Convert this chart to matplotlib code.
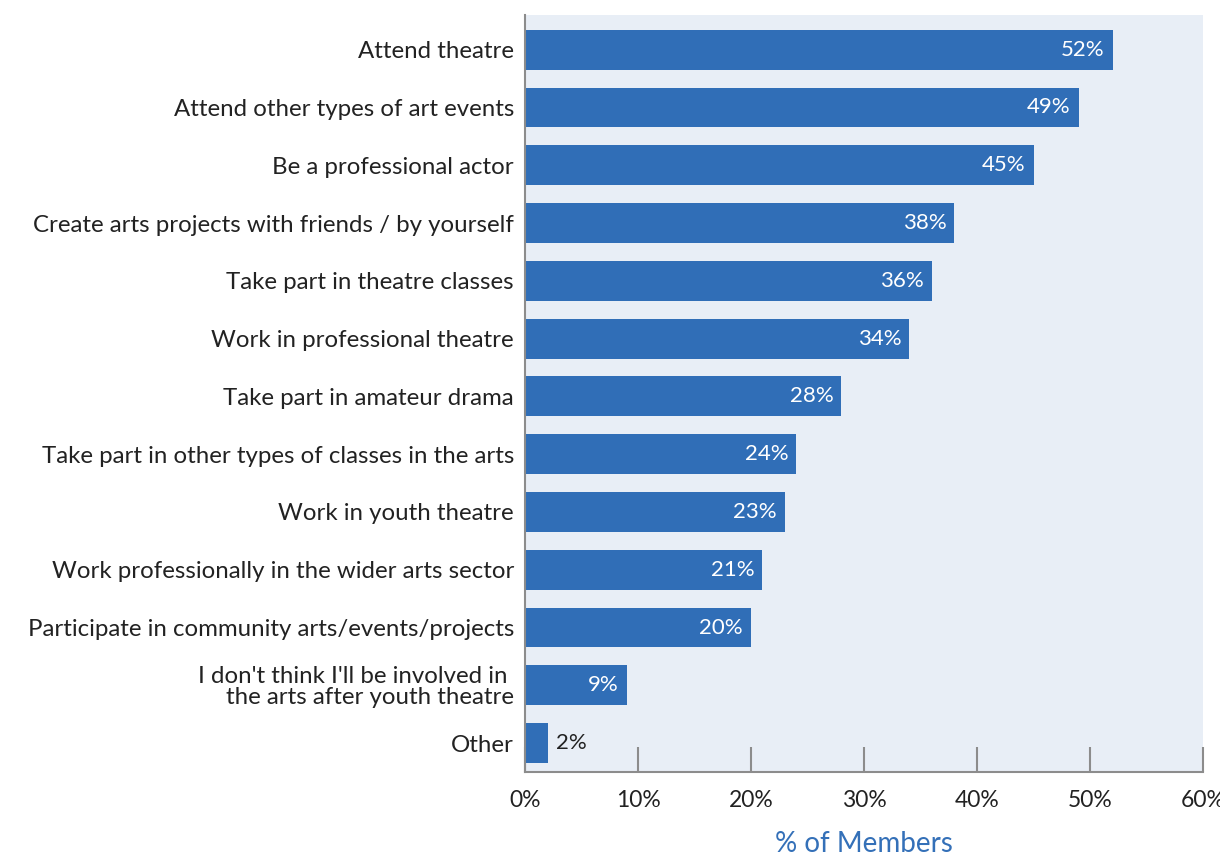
import matplotlib.pyplot as plt

categories = [
    "Attend theatre",
    "Attend other types of art events",
    "Be a professional actor",
    "Create arts projects with friends / by yourself",
    "Take part in theatre classes",
    "Work in professional theatre",
    "Take part in amateur drama",
    "Take part in other types of classes in the arts",
    "Work in youth theatre",
    "Work professionally in the wider arts sector",
    "Participate in community arts/events/projects",
    "I don't think I'll be involved in \nthe arts after youth theatre",
    "Other",
]
values = [52, 49, 45, 38, 36, 34, 28, 24, 23, 21, 20, 9, 2]
xticks = [0, 10, 20, 30, 40, 50, 60]

bar_color = "#306EB7"
bg_color = "#E8EEF6"
text_color = "#222222"
axis_color = "#8C8C8C"

plt.rcParams['font.family'] = ['Lato', 'DejaVu Sans']

fig = plt.figure(figsize=(12.2, 8.58), dpi=100)
ax = fig.add_axes([525 / 1220, 86 / 858, 678 / 1220, 757 / 858])
ax.set_facecolor(bg_color)

y = list(range(len(categories)))
ax.barh(y, values, height=0.69, color=bar_color, zorder=2)

ax.set_xlim(0, 60)
ax.set_ylim(12.5, -0.6)

# value labels
for yi, v in zip(y, values):
    if v >= 5:
        ax.text(v - 0.7, yi, f"{v}%", ha='right', va='center',
                color='white', fontsize=16, zorder=3)
    else:
        ax.text(v + 0.7, yi, f"{v}%", ha='left', va='center',
                color=text_color, fontsize=16, zorder=3)

ax.set_yticks(y)
ax.set_yticklabels(categories, fontsize=17.3, color=text_color,
                   multialignment='right', linespacing=1.0)
ax.tick_params(axis='y', length=0, pad=8)

ax.set_xticks(xticks)
ax.set_xticklabels([f"{t}%" for t in xticks], fontsize=16.5, color=text_color)
ax.tick_params(axis='x', direction='in', length=18, width=1.5,
               color=axis_color, pad=13)

for side in ['top', 'right']:
    ax.spines[side].set_visible(False)
for side in ['left', 'bottom']:
    ax.spines[side].set_color(axis_color)
    ax.spines[side].set_linewidth(1.5)

ax.set_xlabel("% of Members", fontsize=20, color="#3470B8", labelpad=14)

fig.savefig("out.png", dpi=100)
